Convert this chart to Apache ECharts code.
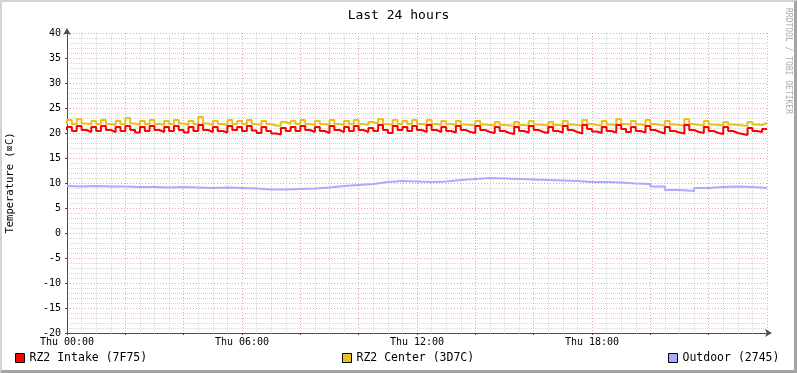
<!DOCTYPE html>
<html>
<head>
<meta charset="utf-8">
<script src="https://cdn.jsdelivr.net/npm/echarts@6/dist/echarts.min.js"></script>
<style>
  html, body { margin: 0; padding: 0; background: #fff; }
  #wrap { position: relative; width: 797px; height: 373px; }
  #chart { width: 797px; height: 373px; }
  #wrap::after {
    content: ''; position: absolute; left: 0; top: 0; right: 0; bottom: 0;
    box-sizing: border-box; pointer-events: none;
    border-top: 2px solid #d4d4d4; border-left: 2px solid #d4d4d4;
    border-right: 3px solid #a4a4a4; border-bottom: 3px solid #a4a4a4;
  }
</style>
</head>
<body>
<div id="wrap"><div id="chart"></div></div>
<script>
// samples every 10 minutes (red / gold), every 30 minutes (outdoor)
const STEP_FAST = 1 / 6
const STEP_SLOW = 0.5

const intake = [
  20.6, 21.2, 20.4, 21.4, 20.6, 20.2,
  21.2, 20.4, 21.4, 20.6, 20.2, 21.2,
  20.4, 21.4, 20.6, 20.1, 21.2, 20.4,
  21.4, 20.6, 20.2, 21.2, 20.4, 21.4,
  20.6, 20.1, 21.2, 20.4, 21.6, 20.6,
  20.2, 21.2, 20.4, 20.1, 21.4, 20.6,
  21.2, 20.4, 21.4, 20.5, 20.0, 21.2,
  20.4, 19.9, 19.7, 21.0, 20.4, 21.2,
  20.4, 21.4, 20.6, 20.2, 21.2, 20.4,
  20.0, 21.4, 20.6, 20.2, 21.2, 20.4,
  21.4, 20.6, 20.2, 21.0, 20.4, 21.6,
  20.6, 20.0, 21.4, 20.6, 21.2, 20.4,
  21.4, 20.6, 20.2, 21.6, 20.6, 20.2,
  21.2, 20.4, 20.1, 21.4, 20.6, 20.2,
  20.0, 21.4, 20.6, 20.2, 20.0, 21.2,
  20.4, 20.0, 19.8, 21.2, 20.4, 20.1,
  21.4, 20.6, 20.2, 20.0, 21.2, 20.4,
  20.1, 21.4, 20.6, 20.2, 19.9, 21.6,
  20.8, 20.3, 20.0, 21.2, 20.4, 20.1,
  21.6, 20.8, 20.2, 21.2, 20.4, 20.1,
  21.4, 20.6, 20.2, 19.9, 21.2, 20.4,
  20.1, 19.9, 21.6, 20.6, 20.2, 20.0,
  21.2, 20.4, 20.0, 19.8, 21.2, 20.4,
  20.0, 19.8, 19.6, 21.0, 20.4, 20.2, 20.8
]

const center = [
  21.8, 22.6, 21.8, 22.8, 21.9, 21.7,
  22.4, 21.8, 22.6, 21.8, 21.6, 22.4,
  21.8, 23.0, 21.9, 21.6, 22.4, 21.8,
  22.6, 21.8, 21.6, 22.4, 21.8, 22.6,
  21.9, 21.6, 22.4, 21.8, 23.2, 21.9,
  21.6, 22.4, 21.8, 21.6, 22.6, 21.8,
  22.4, 21.8, 22.6, 21.8, 21.6, 22.4,
  21.8, 21.5, 21.4, 22.2, 21.8, 22.4,
  21.8, 22.6, 21.8, 21.6, 22.4, 21.8,
  21.6, 22.6, 21.8, 21.6, 22.4, 21.8,
  22.6, 21.8, 21.6, 22.2, 21.8, 22.8,
  21.8, 21.6, 22.6, 21.8, 22.4, 21.8,
  22.6, 21.8, 21.6, 22.6, 21.8, 21.6,
  22.4, 21.8, 21.6, 22.4, 21.7, 21.6,
  21.6, 22.4, 21.7, 21.6, 21.5, 22.2,
  21.6, 21.5, 21.4, 22.2, 21.6, 21.5,
  22.4, 21.7, 21.6, 21.5, 22.2, 21.6,
  21.5, 22.4, 21.7, 21.6, 21.5, 22.6,
  21.8, 21.6, 21.5, 22.4, 21.7, 21.6,
  22.8, 21.8, 21.6, 22.4, 21.7, 21.6,
  22.6, 21.8, 21.6, 21.5, 22.4, 21.7,
  21.6, 21.5, 22.8, 21.8, 21.6, 21.5,
  22.4, 21.7, 21.6, 21.5, 22.2, 21.7,
  21.6, 21.5, 21.4, 22.2, 21.7, 21.6, 22.0
]

const outdoor = [
  9.4, 9.3, 9.4, 9.3, 9.3, 9.2, 9.2, 9.1, 9.2, 9.1, 9.0, 9.1,
  9.0, 8.9, 8.7, 8.7, 8.8, 8.9, 9.1, 9.4, 9.6, 9.8, 10.2, 10.4,
  10.3, 10.2, 10.3, 10.6, 10.8, 11.0, 10.9, 10.8, 10.7, 10.6, 10.5, 10.4,
  10.2, 10.2, 10.1, 9.9, 9.8, 9.3, 8.6, 8.4, 9.0, 9.2, 9.3, 9.2, 9.0
]

const names = ['RZ2 Intake (7F75)', 'RZ2 Center (3D7C)', 'Outdoor (2745)']
const colors = ['#ff0000', '#e8c020', '#aaaaff']
const yTicks = { min: -20, max: 40, interval: 5 }
const xHourLabels = ['Thu 00:00', 'Thu 06:00', 'Thu 12:00', 'Thu 18:00']

const mono = 'DejaVu Sans Mono'
const toPairs = (arr, step) => arr.map((v, i) => [i * step, v])

const chart = echarts.init(document.getElementById('chart'), null, { renderer: 'canvas' })

const legendBase = {
  orient: 'horizontal', top: 347, icon: 'rect', itemWidth: 9, itemHeight: 9, itemGap: 6,
  textStyle: { fontFamily: mono, fontSize: 11.5, color: '#000' },
  itemStyle: { borderColor: '#000', borderWidth: 1 },
}

const majorGrid = { show: true, lineStyle: { color: 'rgba(225,130,130,0.7)', type: [1, 2], width: 1 } }
const minorGrid = { show: true, lineStyle: { color: 'rgba(190,190,190,0.6)', type: [1, 1], width: 1 } }

chart.setOption({
  backgroundColor: '#fff',
  animation: false,
  title: {
    text: 'Last 24 hours', left: 'center', top: 4,
    textStyle: { fontFamily: mono, fontSize: 13, fontWeight: 'normal', color: '#000' },
  },
  legend: [
    { ...legendBase, left: 10, data: [names[0]] },
    { ...legendBase, left: 337, data: [names[1]] },
    { ...legendBase, left: 663, data: [names[2]] },
  ],
  grid: { left: 67, right: 30, top: 33, bottom: 40, containLabel: false, outerBoundsMode: 'none' },
  xAxis: {
    type: 'value', min: 0, max: 24, interval: 2,
    axisLine: { onZero: false, lineStyle: { color: '#5c4545', width: 1 }, symbol: ['none', 'arrow'], symbolSize: [6, 7], symbolOffset: [0, 5] },
    axisTick: { show: true, length: 2, lineStyle: { color: '#5c4545' } },
    minorTick: { show: true, splitNumber: 4, length: 1, lineStyle: { color: '#888' } },
    axisLabel: {
      fontFamily: mono, fontSize: 10, color: '#000', margin: 4,
      formatter: v => (v % 6 === 0 && v < 24) ? xHourLabels[v / 6] : '',
    },
    splitLine: majorGrid,
    minorSplitLine: minorGrid,
  },
  yAxis: {
    type: 'value', min: yTicks.min, max: yTicks.max, interval: yTicks.interval,
    name: 'Temperature (\u2327C)', nameLocation: 'middle', nameGap: 51, nameRotate: 90,
    nameTextStyle: { fontFamily: mono, fontSize: 10.5, color: '#000' },
    axisLine: { show: true, lineStyle: { color: '#5c4545', width: 1 }, symbol: ['none', 'arrow'], symbolSize: [6, 7], symbolOffset: [0, 5] },
    axisTick: { show: true, length: 2, lineStyle: { color: '#5c4545' } },
    axisLabel: { fontFamily: mono, fontSize: 10, color: '#000', margin: 6 },
    splitLine: majorGrid,
    minorSplitLine: minorGrid,
    minorTick: { show: false, splitNumber: 5 },
  },
  graphic: [{
    type: 'text', x: 792, y: 8, rotation: -Math.PI / 2,
    style: { text: 'RRDTOOL / TOBI OETIKER', fontFamily: mono, fontSize: 8, fill: '#aaaaaa' },
  }],
  series: [
    { name: names[0], data: toPairs(intake, STEP_FAST) },
    { name: names[1], data: toPairs(center, STEP_FAST) },
    { name: names[2], data: toPairs(outdoor, STEP_SLOW) },
  ].map((s, i) => ({
    ...s,
    type: 'line', step: 'start', showSymbol: false, z: 3 - i,
    lineStyle: { color: colors[i], width: 2 },
    itemStyle: { color: colors[i] },
  })),
})
</script>
</body>
</html>
